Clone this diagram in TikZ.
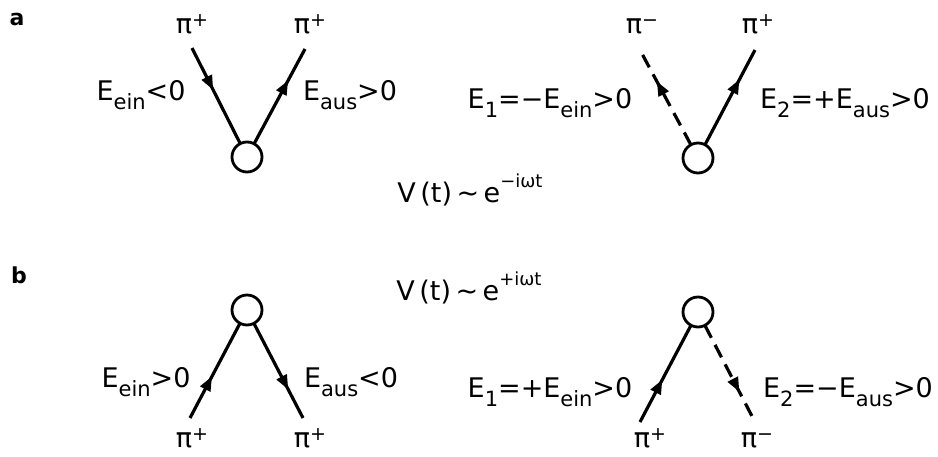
\documentclass[tikz,border=0pt]{standalone}
\usepackage{fontspec}
\setmainfont{DejaVu Sans}
\usetikzlibrary{decorations.markings,arrows.meta}
\newcommand\lsub[1]{\raisebox{-9pt}{\fontsize{21}{21}\selectfont #1}}
\newcommand\lsup[1]{\raisebox{7pt}{\fontsize{19}{19}\selectfont #1}}
\newcommand\lexp[1]{\raisebox{15pt}{\fontsize{18}{18}\selectfont #1}}
\begin{document}
\begin{tikzpicture}[x=1pt,y=-1pt,
  lbl/.style={anchor=base,inner sep=0pt,font=\fontsize{27}{30}\selectfont},
  panel/.style={anchor=base,inner sep=0pt,font=\fontsize{22}{24}\selectfont\bfseries},
  vtx/.style={circle,draw,minimum size=30pt,inner sep=0pt,outer sep=0pt,line width=2.8pt},
  ln/.style={line width=3.2pt},
  dsh/.style={ln,dash pattern=on 14pt off 8pt},
  midarr/.style={postaction={decorate},decoration={markings,mark=at position #1 with {\fill[solid] (6pt,0pt) -- (-8pt,6pt) -- (-8pt,-6pt) -- cycle;}}}]
\fill[white] (0,0) rectangle (938,456);
\useasboundingbox (0,0) rectangle (938,456);
% panel labels
\node[panel] (la) at (17,25) {a};
\node[panel] (lb) at (19,283) {b};
% ---- panel a, left
\node[vtx] (ca) at (247,157) {};
\coordinate (a1) at (192,48);
\coordinate (a2) at (305,49);
\draw[ln,midarr=0.38] (a1) -- (ca);
\draw[ln,midarr=0.61] (ca) -- (a2);
\node[lbl] (pa1) at (192,33) {π\lsup{+}};
\node[lbl] (pa2) at (310,33) {π\lsup{+}};
\node[lbl] (ea1) at (141,100) {E\lsub{ein}<0};
\node[lbl] (ea2) at (350,100) {E\lsub{aus}>0};
% ---- panel a, right
\node[vtx] (cb) at (698,158) {};
\coordinate (b1) at (640,50);
\coordinate (b2) at (755,50);
\draw[dsh,midarr=0.61] (cb) -- (b1);
\draw[ln,midarr=0.63] (cb) -- (b2);
\node[lbl] (pb1) at (642,33) {π\lsup{−}};
\node[lbl] (pb2) at (758,33) {π\lsup{+}};
\node[lbl] (eb1) at (550,108) {E\lsub{1}=−E\lsub{ein}>0};
\node[lbl] (eb2) at (845,108) {E\lsub{2}=+E\lsub{aus}>0};
% V(t) a
\node[lbl] (va) at (470,202) {V\,(t)\,∼\,e\lexp{−iωt}};
% ---- panel b, left
\node[vtx] (cc) at (247,310) {};
\coordinate (c1) at (190,418);
\coordinate (c2) at (303,418);
\draw[ln,midarr=0.38] (c1) -- (cc);
\draw[ln,midarr=0.64] (cc) -- (c2);
\node[lbl] (pc1) at (192,447) {π\lsup{+}};
\node[lbl] (pc2) at (310,447) {π\lsup{+}};
\node[lbl] (ec1) at (146,387) {E\lsub{ein}>0};
\node[lbl] (ec2) at (351,387) {E\lsub{aus}<0};
% V(t) b
\node[lbl] (vb) at (469,300) {V\,(t)\,∼\,e\lexp{+iωt}};
% ---- panel b, right
\node[vtx] (cd) at (698,312) {};
\coordinate (d1) at (640,422);
\coordinate (d2) at (755,422);
\draw[ln,midarr=0.38] (d1) -- (cd);
\draw[dsh,midarr=0.63] (cd) -- (d2);
\node[lbl] (pd1) at (650,447) {π\lsup{+}};
\node[lbl] (pd2) at (757,447) {π\lsup{−}};
\node[lbl] (ed1) at (550,397) {E\lsub{1}=+E\lsub{ein}>0};
\node[lbl] (ed2) at (848,397) {E\lsub{2}=−E\lsub{aus}>0};
\end{tikzpicture}
\end{document}
